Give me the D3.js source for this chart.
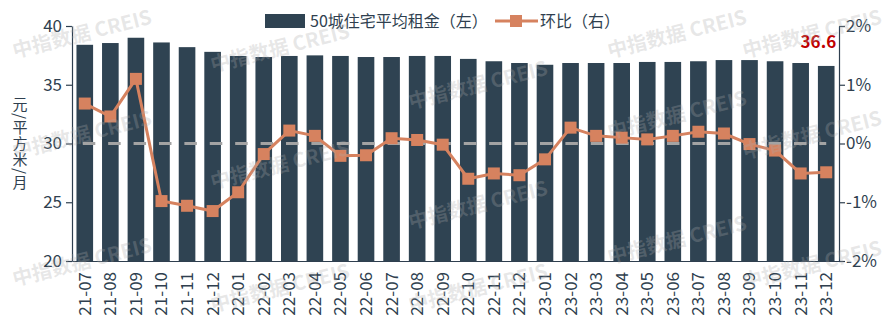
<!DOCTYPE html>
<html>
<head>
<meta charset="utf-8">
<script src="https://cdn.jsdelivr.net/npm/d3@7"></script>
<style>
  html, body { margin: 0; padding: 0; background: #fff; }
  svg { display: block; font-family: "Noto Sans CJK SC", "Noto Sans", sans-serif; }
</style>
</head>
<body>
<svg id="chart" width="887" height="324"></svg>
<script>
// 月份
const months = [
  "21-07","21-08","21-09","21-10","21-11","21-12",
  "22-01","22-02","22-03","22-04","22-05","22-06",
  "22-07","22-08","22-09","22-10","22-11","22-12",
  "23-01","23-02","23-03","23-04","23-05","23-06",
  "23-07","23-08","23-09","23-10","23-11","23-12"
];
// 50城住宅平均租金（元/平方米/月）
const rent = [
  38.4, 38.55, 39.0, 38.6, 38.2, 37.8,
  37.45, 37.36, 37.45, 37.5, 37.45, 37.36,
  37.36, 37.45, 37.45, 37.2, 37.0, 36.85,
  36.7, 36.85, 36.85, 36.85, 36.94, 36.94,
  37.0, 37.1, 37.1, 37.0, 36.85, 36.6
];
// 环比（%）
const mom = [
  0.68, 0.46, 1.10, -0.98, -1.06, -1.15,
  -0.83, -0.18, 0.22, 0.13, -0.21, -0.20,
  0.09, 0.06, -0.02, -0.60, -0.51, -0.54,
  -0.27, 0.27, 0.13, 0.10, 0.07, 0.13,
  0.20, 0.17, -0.01, -0.12, -0.51, -0.49
];
const leftTicks = [20, 25, 30, 35, 40];
const rightTicks = [-2, -1, 0, 1, 2];
const refLevel = 30;

const barColor = "#2f4352";
const lineColor = "#d6825f";
const textColor = "#2f3f4f";
const axisColor = "#2f3f4f";

const svg = d3.select("#chart");
const plotLeft = 72, plotRight = 839, plotTop = 26, plotBottom = 261;

const x = d3.scaleBand().domain(months).range([plotLeft, plotRight])
  .paddingInner(0.35).paddingOuter(0.175);
const yL = d3.scaleLinear().domain([20, 40]).range([plotBottom, plotTop]);
const yR = d3.scaleLinear().domain([-2, 2]).range([plotBottom, plotTop]);

// 柱：平均租金
svg.append("g").selectAll("rect").data(months).join("rect")
  .attr("x", d => x(d))
  .attr("y", (d, i) => yL(rent[i]))
  .attr("width", x.bandwidth())
  .attr("height", (d, i) => yL(20) - yL(rent[i]))
  .attr("fill", barColor);

// 30 元参考虚线
const cx = d => x(d) + x.bandwidth() / 2;
svg.append("line")
  .attr("x1", cx(months[0]) - 2)
  .attr("x2", cx(months[months.length - 1]))
  .attr("y1", yL(refLevel)).attr("y2", yL(refLevel))
  .attr("stroke", "#a3a3a3").attr("stroke-width", 3)
  .attr("stroke-dasharray", "12.5,12.9");

// 折线：环比
const line = d3.line().x((d, i) => cx(months[i])).y(d => yR(d));
svg.append("path").datum(mom)
  .attr("d", line)
  .attr("fill", "none").attr("stroke", lineColor).attr("stroke-width", 3);
const ms = 12;
svg.append("g").selectAll("rect").data(mom).join("rect")
  .attr("x", (d, i) => cx(months[i]) - ms / 2)
  .attr("y", d => yR(d) - ms / 2)
  .attr("width", ms).attr("height", ms)
  .attr("fill", lineColor);

// 坐标轴
const styleAxis = g => {
  g.selectAll("path, line").attr("stroke", axisColor).attr("stroke-width", 1.2);
  g.selectAll("text").attr("fill", textColor)
    .style("font-family", "'Noto Sans CJK SC', sans-serif").style("font-size", "17px");
};
svg.append("g").attr("transform", `translate(${plotLeft},0)`)
  .call(d3.axisLeft(yL).tickValues(leftTicks).tickSize(6).tickSizeOuter(0).tickPadding(4))
  .call(styleAxis);
svg.append("g").attr("transform", `translate(${plotRight},0)`)
  .call(d3.axisRight(yR).tickValues(rightTicks).tickSize(6).tickSizeOuter(0).tickPadding(1)
    .tickFormat(d => d + "%"))
  .call(styleAxis);
const xAxis = svg.append("g").attr("transform", `translate(0,${plotBottom})`)
  .call(d3.axisBottom(x).tickSize(0).tickSizeOuter(0).tickPadding(0))
  .call(styleAxis);
xAxis.selectAll("text")
  .style("font-size", "17px")
  .attr("text-anchor", "end")
  .attr("dy", "0.35em")
  .attr("transform", "translate(0,11) rotate(-90)");

// 纵轴标题（竖排）
svg.append("text")
  .attr("x", 20).attr("y", 144)
  .attr("text-anchor", "middle")
  .style("writing-mode", "vertical-rl")
  .style("text-orientation", "mixed")
  .style("font-size", "15px")
  .style("letter-spacing", "1px")
  .attr("fill", textColor)
  .text("元/平方米/月");

// 末值标注
svg.append("text")
  .attr("x", cx(months[months.length - 1]) + 10)
  .attr("y", yL(rent[rent.length - 1]) - 18)
  .attr("text-anchor", "end")
  .style("font-size", "17px").style("font-weight", "bold")
  .attr("fill", "#c00000")
  .text(rent[rent.length - 1].toFixed(1));

// 图例
const lg = svg.append("g");
lg.append("rect").attr("x", 265).attr("y", 14).attr("width", 40).attr("height", 14).attr("fill", barColor);
lg.append("text").attr("x", 310).attr("y", 27).style("font-size", "16px").attr("fill", textColor)
  .text("50城住宅平均租金（左）");
lg.append("line").attr("x1", 495).attr("x2", 538).attr("y1", 21).attr("y2", 21)
  .attr("stroke", lineColor).attr("stroke-width", 3);
lg.append("rect").attr("x", 510).attr("y", 15).attr("width", 12).attr("height", 12).attr("fill", lineColor);
lg.append("text").attr("x", 540).attr("y", 27).style("font-size", "16px").attr("fill", textColor)
  .text("环比（右）");

// 水印
const marks = [
  [82, 34], [82, 135], [82, 262],
  [280, 48], [280, 165], [280, 288],
  [478, 85], [478, 205], [478, 288],
  [677, 34], [677, 115], [677, 240],
  [812, 34], [812, 135], [812, 265]
];
svg.append("g").attr("pointer-events", "none").selectAll("text").data(marks).join("text")
  .attr("transform", d => `translate(${d[0]},${d[1]}) rotate(-14)`)
  .attr("text-anchor", "middle").attr("dy", "0.35em")
  .style("font-size", "20px").style("font-weight", "bold")
  .attr("fill", "rgba(170,170,170,0.28)")
  .text("中指数据 CREIS");
</script>
</body>
</html>
